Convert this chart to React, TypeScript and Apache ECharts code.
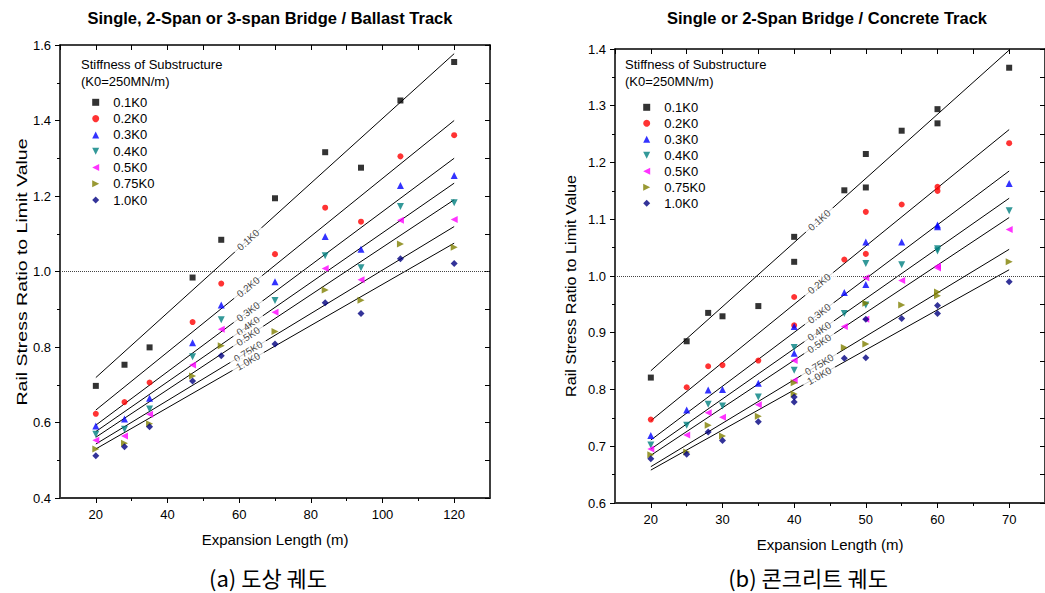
import React, { useEffect, useRef } from "react";
import * as echarts from "echarts";

// ---------- data ----------
const seriesNames = ["0.1K0", "0.2K0", "0.3K0", "0.4K0", "0.5K0", "0.75K0", "1.0K0"];

// (a) ballast track
const ballastLength = [20, 28, 35, 47, 55, 70, 84, 94, 105, 120];
const ballast01 = [0.697, 0.753, 0.799, 0.984, 1.084, 1.194, 1.316, 1.275, 1.453, 1.555];
const ballast02 = [0.623, 0.654, 0.706, 0.866, 0.968, 1.046, 1.169, 1.132, 1.305, 1.361];
const ballast03 = [0.591, 0.609, 0.664, 0.811, 0.911, 0.973, 1.093, 1.059, 1.228, 1.254];
const ballast04 = [0.569, 0.582, 0.636, 0.774, 0.872, 0.923, 1.042, 1.010, 1.172, 1.182];
const ballast05 = [0.553, 0.564, 0.622, 0.752, 0.847, 0.892, 1.008, 0.978, 1.136, 1.138];
const ballast075 = [0.530, 0.545, 0.597, 0.723, 0.803, 0.841, 0.951, 0.924, 1.073, 1.064];
const ballast10 = [0.512, 0.536, 0.589, 0.710, 0.777, 0.808, 0.917, 0.889, 1.034, 1.021];
const ballastFitX = [20, 120];
const ballastFitStart = [0.719, 0.633, 0.593, 0.576, 0.561, 0.543, 0.530];
const ballastFitEnd = [1.577, 1.400, 1.300, 1.234, 1.190, 1.119, 1.075];
const ballastLabelX = 62.5;

// (b) concrete track
const concreteLength = [20, 25, 28, 30, 35, 40, 40, 47, 50, 50, 55, 60, 60, 70];
const concrete01 = [0.821, 0.885, 0.935, 0.929, 0.947, 1.069, 1.025, 1.151, 1.215, 1.156, 1.256, 1.294, 1.269, 1.367];
const concrete02 = [0.747, 0.804, 0.841, 0.843, 0.851, 0.963, 0.913, 1.029, 1.113, 1.039, 1.126, 1.157, 1.150, 1.234];
const concrete03 = [0.719, 0.764, 0.799, 0.800, 0.811, 0.911, 0.864, 0.971, 1.060, 0.985, 1.060, 1.090, 1.087, 1.163];
const concrete04 = [0.702, 0.737, 0.774, 0.771, 0.787, 0.874, 0.834, 0.934, 1.022, 0.949, 1.020, 1.048, 1.044, 1.115];
const concrete05 = [0.695, 0.720, 0.759, 0.751, 0.773, 0.851, 0.816, 0.911, 0.997, 0.924, 0.992, 1.017, 1.014, 1.082];
const concrete075 = [0.685, 0.690, 0.737, 0.718, 0.753, 0.812, 0.792, 0.874, 0.952, 0.880, 0.949, 0.972, 0.965, 1.025];
const concrete10 = [0.678, 0.686, 0.725, 0.710, 0.743, 0.787, 0.778, 0.855, 0.924, 0.856, 0.925, 0.948, 0.934, 0.990];
const concreteFitX = [20, 70];
const concreteFitStart = [0.833, 0.745, 0.711, 0.695, 0.684, 0.664, 0.658];
const concreteFitEnd = [1.398, 1.258, 1.185, 1.137, 1.103, 1.047, 1.011];
const concreteLabelX = 43.5;

const ballastTicks = [20, 40, 60, 80, 100, 120];
const ballastMinorTicks = [30, 50, 70, 90, 110];
const concreteTicks = [20, 30, 40, 50, 60, 70];
const concreteMinorTicks = [25, 35, 45, 55, 65];
const limitValue = 1.0;

// ---------- styles ----------
const COLORS = ["#000000", "#ff0000", "#0000ff", "#008080", "#ff00ff", "#808000", "#000080"];
const SYMBOLS = ["rect", "circle", "triangle", "triangle", "triangle", "triangle", "diamond"];
const ROTATES = [0, 0, 0, 180, 90, -90, 0];
const SIZES = [6, 6, 7, 7, 7, 7, 7];
const LEGEND_ICONS = [
  "rect",
  "circle",
  "path://M5,0 L10,10 L0,10 Z",
  "path://M0,0 L10,0 L5,10 Z",
  "path://M10,0 L10,10 L0,5 Z",
  "path://M0,0 L10,5 L0,10 Z",
  "diamond",
];
const FONT = '"Liberation Sans", Arial, sans-serif';

const ballastSets = [ballast01, ballast02, ballast03, ballast04, ballast05, ballast075, ballast10];
const concreteSets = [concrete01, concrete02, concrete03, concrete04, concrete05, concrete075, concrete10];

function buildChartSeries(
  gi: number,
  xs: number[],
  sets: number[][],
  fitX: number[],
  fs: number[],
  fe: number[],
  labelX: number,
  angles: number[]
) {
  const xa = gi * 3;
  const ya = gi * 2;
  const out: any[] = [];
  seriesNames.forEach((n, i) => {
    const s: any = {
      type: "line",
      name: "fit " + n,
      xAxisIndex: xa,
      yAxisIndex: ya,
      data: [
        [fitX[0], fs[i]],
        [fitX[1], fe[i]],
      ],
      symbol: "none",
      silent: true,
      z: 2,
      lineStyle: { color: "#000", width: 1 },
    };
    if (i === 0) {
      s.markLine = {
        silent: true,
        symbol: ["none", "none"],
        label: { show: false },
        lineStyle: { color: "#444", width: 1, type: "dotted" },
        data: [{ yAxis: limitValue }],
      };
    }
    out.push(s);
  });
  seriesNames.forEach((n, i) => {
    out.push({
      type: "scatter",
      name: n,
      xAxisIndex: xa,
      yAxisIndex: ya,
      data: xs.map((x, k) => [x, sets[i][k]]),
      symbol: SYMBOLS[i],
      symbolRotate: ROTATES[i],
      symbolSize: SIZES[i],
      itemStyle: { color: COLORS[i] },
      z: 3,
    });
  });
  out.push({
    type: "scatter",
    name: "labels",
    xAxisIndex: xa,
    yAxisIndex: ya,
    silent: true,
    z: 10,
    symbolSize: 1,
    itemStyle: { color: "rgba(255,255,255,0)" },
    data: seriesNames.map((n, i) => ({
      name: n,
      value: [labelX, fs[i] + ((labelX - fitX[0]) * (fe[i] - fs[i])) / (fitX[1] - fitX[0])],
      label: { rotate: angles[i] },
    })),
    label: {
      show: true,
      position: "inside",
      formatter: "{b}",
      fontSize: 10,
      fontFamily: FONT,
      color: "#111",
      backgroundColor: "#ffffff",
      padding: [1, 5],
    },
  });
  return out;
}

function buildOption(angA: number[], angB: number[]) {
  const axisLine = { show: true, lineStyle: { color: "#000", width: 1.5 } };
  const bottomLine = { show: true, lineStyle: { color: "#333", width: 2 } };
  const tickStyle = { color: "#000", width: 1 };
  const labelStyle = { fontSize: 13, color: "#000", fontFamily: FONT };
  const nameStyle = { fontSize: 15, color: "#000", fontFamily: FONT };

  const mkX = (gi: number, min: number, max: number, major: number[], minor: number[], topInterval: number) => [
    {
      type: "value",
      gridIndex: gi,
      position: "bottom",
      min,
      max,
      axisLine: bottomLine,
      axisTick: { show: true, inside: false, length: 5, customValues: major, lineStyle: tickStyle },
      axisLabel: { ...labelStyle, margin: 10, customValues: major },
      splitLine: { show: false },
      name: "Expansion Length (m)",
      nameLocation: "middle",
      nameGap: 34,
      nameTextStyle: nameStyle,
    },
    {
      type: "value",
      gridIndex: gi,
      position: "bottom",
      min,
      max,
      axisLine: { show: false },
      axisTick: { show: true, inside: false, length: 3, customValues: minor, lineStyle: tickStyle },
      axisLabel: { show: false },
      splitLine: { show: false },
    },
    {
      type: "value",
      gridIndex: gi,
      position: "top",
      min,
      max,
      interval: topInterval,
      axisLine,
      axisTick: { show: true, inside: true, length: 5, lineStyle: tickStyle },
      axisLabel: { show: false },
      splitLine: { show: false },
    },
  ];

  const mkY = (gi: number, min: number, max: number, interval: number, rightInterval: number) => [
    {
      type: "value",
      gridIndex: gi,
      position: "left",
      min,
      max,
      interval,
      axisLine,
      axisTick: { show: true, inside: false, length: 5, lineStyle: tickStyle },
      minorTick: { show: true, splitNumber: 2, length: 3, lineStyle: tickStyle },
      axisLabel: { ...labelStyle, margin: 9, formatter: (v: number) => v.toFixed(1) },
      splitLine: { show: false },
    },
    {
      type: "value",
      gridIndex: gi,
      position: "right",
      min,
      max,
      interval: rightInterval,
      axisLine,
      axisTick: { show: true, inside: true, length: 5, lineStyle: tickStyle },
      axisLabel: { show: false },
      splitLine: { show: false },
    },
  ];

  const legendBase = {
    orient: "vertical",
    padding: 0,
    itemWidth: 7,
    itemHeight: 7,
    selectedMode: false,
    data: seriesNames.map((n, i) => ({ name: n, icon: LEGEND_ICONS[i] })),
    textStyle: { fontSize: 13, lineHeight: 16, color: "#000", fontFamily: FONT, padding: [0, 0, 0, 9] },
  };

  const textEl = (x: number, y: number, text: string, extra: any, el: any = {}) => ({
    type: "text",
    x,
    y,
    ...el,
    style: { text, fontFamily: FONT, fill: "#000", align: "center", verticalAlign: "middle", ...extra },
  });

  return {
    animation: false,
    backgroundColor: "#ffffff",
    textStyle: { fontFamily: FONT },
    grid: [
      { left: 60, top: 45, width: 430, height: 453 },
      { left: 615, top: 49, width: 432, height: 454 },
    ],
    xAxis: [
      ...mkX(0, 10, 130, ballastTicks, ballastMinorTicks, 10),
      ...mkX(1, 15, 75, concreteTicks, concreteMinorTicks, 5),
    ],
    yAxis: [...mkY(0, 0.4, 1.6, 0.2, 0.1), ...mkY(1, 0.6, 1.4, 0.1, 0.05)],
    legend: [
      { ...legendBase, left: 92.2, top: 94.3, itemGap: 0.3 },
      { ...legendBase, left: 643.2, top: 99.3, itemGap: 0 },
    ],
    graphic: [
      textEl(270, 18, "Single, 2-Span or 3-span Bridge / Ballast Track", { fontSize: 16.5, fontWeight: "bold" }),
      textEl(827, 18, "Single or 2-Span Bridge / Concrete Track", { fontSize: 16.5, fontWeight: "bold" }),
      textEl(81, 55.5, "Stiffness of Substructure\n(K0=250MN/m)", {
        fontSize: 13,
        lineHeight: 17,
        align: "left",
        verticalAlign: "top",
      }),
      textEl(625, 55.5, "Stiffness of Substructure\n(K0=250MN/m)", {
        fontSize: 13,
        lineHeight: 17,
        align: "left",
        verticalAlign: "top",
      }),
      textEl(22, 272, "Rail Stress Ratio to Limit Value", { fontSize: 15 }, { rotation: Math.PI / 2, scaleX: 1.3 }),
      textEl(571, 286, "Rail Stress Ratio to Limit Value", { fontSize: 15 }, { rotation: Math.PI / 2, scaleX: 1.08 }),
      textEl(268, 577, "(a) 도상 궤도", { fontSize: 22, fontFamily: '"Noto Sans CJK KR", sans-serif' }),
      textEl(808, 577, "(b) 콘크리트 궤도", { fontSize: 22, fontFamily: '"Noto Sans CJK KR", sans-serif' }),
    ],
    series: [
      ...buildChartSeries(0, ballastLength, ballastSets, ballastFitX, ballastFitStart, ballastFitEnd, ballastLabelX, angA),
      ...buildChartSeries(1, concreteLength, concreteSets, concreteFitX, concreteFitStart, concreteFitEnd, concreteLabelX, angB),
    ],
  };
}

function computeAngles(chart: any, gi: number, fitX: number[], fs: number[], fe: number[]) {
  return fs.map((s, i) => {
    const finder = { xAxisIndex: gi * 3, yAxisIndex: gi * 2 };
    const p1 = chart.convertToPixel(finder, [fitX[0], s]);
    const p2 = chart.convertToPixel(finder, [fitX[1], fe[i]]);
    if (!p1 || !p2) return 35;
    return (Math.atan2(p1[1] - p2[1], p2[0] - p1[0]) * 180) / Math.PI;
  });
}

export default function App() {
  const ref = useRef<HTMLDivElement>(null);
  useEffect(() => {
    if (!ref.current) return;
    const chart = echarts.init(ref.current, undefined, { renderer: "svg" });
    const init = seriesNames.map(() => 35);
    chart.setOption(buildOption(init, init) as any);
    const angA = computeAngles(chart, 0, ballastFitX, ballastFitStart, ballastFitEnd);
    const angB = computeAngles(chart, 1, concreteFitX, concreteFitStart, concreteFitEnd);
    chart.setOption(buildOption(angA, angB) as any, true);
    return () => chart.dispose();
  }, []);
  return (
    <div
      ref={ref}
      style={{ position: "absolute", left: 0, top: 0, width: 1045, height: 593, background: "#fff" }}
    />
  );
}
